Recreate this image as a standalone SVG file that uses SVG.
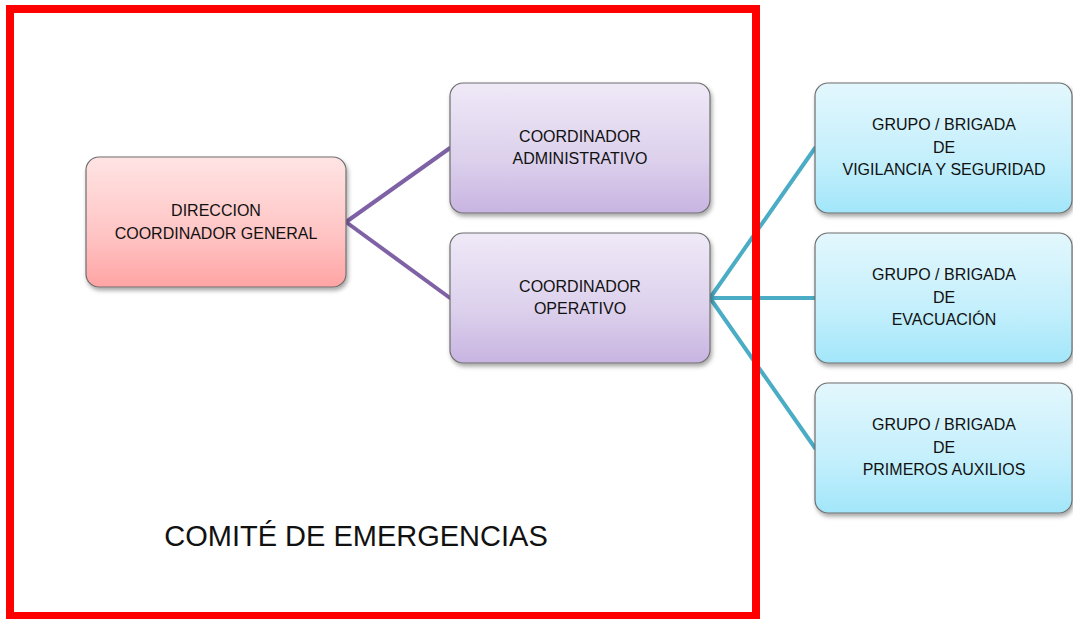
<svg xmlns="http://www.w3.org/2000/svg" width="1073" height="619" viewBox="0 0 1073 619">
<style>
.node{stroke:#6f6f6f;stroke-width:1.2;filter:url(#sh)}
.t{font-family:"Liberation Sans",Arial,sans-serif;font-size:16px;fill:#111;text-anchor:middle}
.big{font-family:"Liberation Sans",Arial,sans-serif;font-size:29px;fill:#111;text-anchor:middle}
.cp{stroke:#7f62a6;stroke-width:4;fill:none;stroke-linecap:round}
.ct{stroke:#4bacc6;stroke-width:4;fill:none;stroke-linecap:round}
</style>
<defs>
<linearGradient id="gr" x1="0" y1="0" x2="0" y2="1"><stop offset="0" stop-color="#ffe4e4"/><stop offset="0.6" stop-color="#ffc4c4"/><stop offset="1" stop-color="#ffa4a4"/></linearGradient>
<linearGradient id="gp" x1="0" y1="0" x2="0" y2="1"><stop offset="0" stop-color="#efe9f7"/><stop offset="0.6" stop-color="#dcd0ec"/><stop offset="1" stop-color="#c8b4e1"/></linearGradient>
<linearGradient id="gb" x1="0" y1="0" x2="0" y2="1"><stop offset="0" stop-color="#e3f7fd"/><stop offset="0.6" stop-color="#c3effc"/><stop offset="1" stop-color="#a2e6fa"/></linearGradient>
<filter id="sh" x="-10%" y="-10%" width="125%" height="130%"><feDropShadow dx="1.5" dy="3" stdDeviation="2" flood-color="#000" flood-opacity="0.35"/></filter>
</defs>
<rect width="1073" height="619" fill="#fff"/>
<g id="connectors">
<path class="cp" d="M346 222 L450 148 M346 222 L450 298"/>
<path class="ct" d="M710 298 L815 148 M710 298 L815 298 M710 298 L815 448"/>
</g>
<g id="frame">
<rect x="10" y="9" width="746" height="607" fill="none" stroke="#ff0000" stroke-width="8"/>
<text class="big" x="356" y="546">COMITÉ DE EMERGENCIAS</text>
</g>
<g id="n-direccion">
<rect class="node" x="86" y="157" width="260" height="130" rx="13" fill="url(#gr)"/>
<text class="t" x="216" y="216">DIRECCION</text>
<text class="t" x="216" y="239">COORDINADOR GENERAL</text>
</g>
<g id="n-admin">
<rect class="node" x="450" y="83" width="260" height="130" rx="13" fill="url(#gp)"/>
<text class="t" x="580" y="142">COORDINADOR</text>
<text class="t" x="580" y="164">ADMINISTRATIVO</text>
</g>
<g id="n-operativo">
<rect class="node" x="450" y="233" width="260" height="130" rx="13" fill="url(#gp)"/>
<text class="t" x="580" y="292">COORDINADOR</text>
<text class="t" x="580" y="314">OPERATIVO</text>
</g>
<g id="n-vigilancia">
<rect class="node" x="815" y="83" width="257" height="130" rx="13" fill="url(#gb)"/>
<text class="t" x="944" y="130">GRUPO / BRIGADA</text>
<text class="t" x="944" y="152.5">DE</text>
<text class="t" x="944" y="175">VIGILANCIA Y SEGURIDAD</text>
</g>
<g id="n-evacuacion">
<rect class="node" x="815" y="233" width="257" height="130" rx="13" fill="url(#gb)"/>
<text class="t" x="944" y="280">GRUPO / BRIGADA</text>
<text class="t" x="944" y="302.5">DE</text>
<text class="t" x="944" y="325">EVACUACIÓN</text>
</g>
<g id="n-auxilios">
<rect class="node" x="815" y="383" width="257" height="130" rx="13" fill="url(#gb)"/>
<text class="t" x="944" y="430">GRUPO / BRIGADA</text>
<text class="t" x="944" y="452.5">DE</text>
<text class="t" x="944" y="475">PRIMEROS AUXILIOS</text>
</g>
</svg>
